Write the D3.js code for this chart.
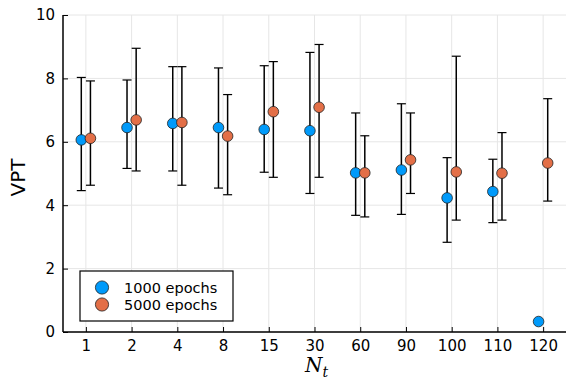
<!DOCTYPE html>
<html>
<head>
<meta charset="utf-8">
<script src="https://cdn.jsdelivr.net/npm/d3@7"></script>
<style>
  body { margin: 0; background: #fff; }
  text { font-family: "DejaVu Sans", sans-serif; }
</style>
</head>
<body>
<svg id="chart" width="581" height="388"></svg>
<script>
// categories on the x axis (N_t)
const categories = ["1", "2", "4", "8", "15", "30", "60", "90", "100", "110", "120"];

// 1000 epochs: mean, lower and upper error bar ends
const mean1000 = [6.06, 6.45, 6.58, 6.45, 6.39, 6.35, 5.02, 5.11, 4.23, 4.43, 0.33];
const low1000  = [4.46, 5.16, 5.08, 4.54, 5.04, 4.37, 3.68, 3.71, 2.83, 3.45, null];
const high1000 = [8.03, 7.95, 8.37, 8.33, 8.40, 8.82, 6.91, 7.20, 5.50, 5.45, null];

// 5000 epochs
const mean5000 = [6.11, 6.69, 6.61, 6.18, 6.95, 7.09, 5.02, 5.43, 5.05, 5.01, 5.33];
const low5000  = [4.63, 5.08, 4.63, 4.33, 4.88, 4.88, 3.63, 4.37, 3.53, 3.53, 4.13];
const high5000 = [7.92, 8.95, 8.37, 7.49, 8.53, 9.07, 6.19, 6.91, 8.70, 6.29, 7.36];

const yTicks = [0, 2, 4, 6, 8, 10];

const series = [
  { name: "1000 epochs", color: "#009AFA", mean: mean1000, low: low1000, high: high1000, shift: -0.1 },
  { name: "5000 epochs", color: "#E36F47", mean: mean5000, low: low5000, high: high5000, shift: 0.1 }
];

const margin = { top: 15, right: 15, bottom: 56, left: 63 };
const width = 581 - margin.left - margin.right;
const height = 388 - margin.top - margin.bottom;

const svg = d3.select("#chart")
  .append("g")
  .attr("transform", `translate(${margin.left},${margin.top})`);

// index based x scale so the two series can sit a little left and right
const xScale = d3.scaleLinear().domain([0.5, categories.length + 0.5]).range([0, width]);
const yScale = d3.scaleLinear().domain([0, 10]).range([height, 0]);

// grid
svg.append("g")
  .selectAll("line")
  .data(categories)
  .join("line")
  .attr("x1", (d, i) => xScale(i + 1)).attr("x2", (d, i) => xScale(i + 1))
  .attr("y1", 0).attr("y2", height)
  .attr("stroke", "#e6e6e6").attr("stroke-width", 1);

svg.append("g")
  .selectAll("line")
  .data(yTicks)
  .join("line")
  .attr("x1", 0).attr("x2", width)
  .attr("y1", d => yScale(d)).attr("y2", d => yScale(d))
  .attr("stroke", "#e6e6e6").attr("stroke-width", 1);

// axes
const xAxis = d3.axisBottom(xScale)
  .tickValues(d3.range(1, categories.length + 1))
  .tickFormat(i => categories[i - 1])
  .tickSize(-5)
  .tickPadding(8);

const xAxisGroup = svg.append("g")
  .attr("transform", `translate(0,${height})`)
  .call(xAxis);
xAxisGroup.select(".domain").remove();
xAxisGroup.append("line")
  .attr("x1", 0).attr("x2", width)
  .attr("stroke", "#000").attr("stroke-width", 1.5);

const yAxis = d3.axisLeft(yScale)
  .tickValues(yTicks)
  .tickSize(-5)
  .tickPadding(8);

const yAxisGroup = svg.append("g").call(yAxis);
yAxisGroup.select(".domain").remove();
yAxisGroup.append("line")
  .attr("y1", 0).attr("y2", height)
  .attr("stroke", "#000").attr("stroke-width", 1.5);

svg.selectAll(".tick line").attr("stroke", "#000").attr("stroke-width", 1);
svg.selectAll(".tick text").attr("font-size", 15).attr("fill", "#000")
  .style("font-family", "DejaVu Sans, sans-serif");

// error bars and points
series.forEach(s => {
  const g = svg.append("g");
  const idx = d3.range(categories.length).filter(i => s.low[i] != null);

  g.selectAll(".bar")
    .data(idx)
    .join("line")
    .attr("x1", i => xScale(i + 1 + s.shift)).attr("x2", i => xScale(i + 1 + s.shift))
    .attr("y1", i => yScale(s.low[i])).attr("y2", i => yScale(s.high[i]))
    .attr("stroke", "#000").attr("stroke-width", 1.5);

  ["low", "high"].forEach(k => {
    g.selectAll(".cap-" + k)
      .data(idx)
      .join("line")
      .attr("x1", i => xScale(i + 1 + s.shift) - 4.5)
      .attr("x2", i => xScale(i + 1 + s.shift) + 4.5)
      .attr("y1", i => yScale(s[k][i])).attr("y2", i => yScale(s[k][i]))
      .attr("stroke", "#000").attr("stroke-width", 1.2);
  });

  g.selectAll("circle")
    .data(s.mean)
    .join("circle")
    .attr("cx", (d, i) => xScale(i + 1 + s.shift))
    .attr("cy", d => yScale(d))
    .attr("r", 5.3)
    .attr("fill", s.color)
    .attr("stroke", "#222").attr("stroke-width", 0.8);
});

// legend
const legend = svg.append("g").attr("transform", "translate(17,256)");
legend.append("rect")
  .attr("width", 153).attr("height", 50)
  .attr("fill", "#fff").attr("stroke", "#000").attr("stroke-width", 1.2);
series.forEach((s, i) => {
  legend.append("circle")
    .attr("cx", 22).attr("cy", 16.5 + i * 17)
    .attr("r", 6.6)
    .attr("fill", s.color).attr("stroke", "#222").attr("stroke-width", 0.8);
  legend.append("text")
    .attr("x", 44).attr("y", 16.5 + i * 17)
    .attr("dy", "0.35em")
    .attr("font-size", 14.5)
    .text(s.name);
});

// axis titles
svg.append("text")
  .attr("transform", `translate(${-38},${height / 2 + 4}) rotate(-90)`)
  .attr("text-anchor", "middle")
  .attr("font-size", 20)
  .text("VPT");

const xl = svg.append("text")
  .attr("x", width / 2 + 2)
  .attr("y", height + 40)
  .attr("text-anchor", "middle")
  .style("font-family", "DejaVu Serif, serif")
  .style("font-style", "italic")
  .attr("font-size", 20);
xl.append("tspan").text("N");
xl.append("tspan").attr("font-size", 14).attr("dy", 5).text("t");
</script>
</body>
</html>
